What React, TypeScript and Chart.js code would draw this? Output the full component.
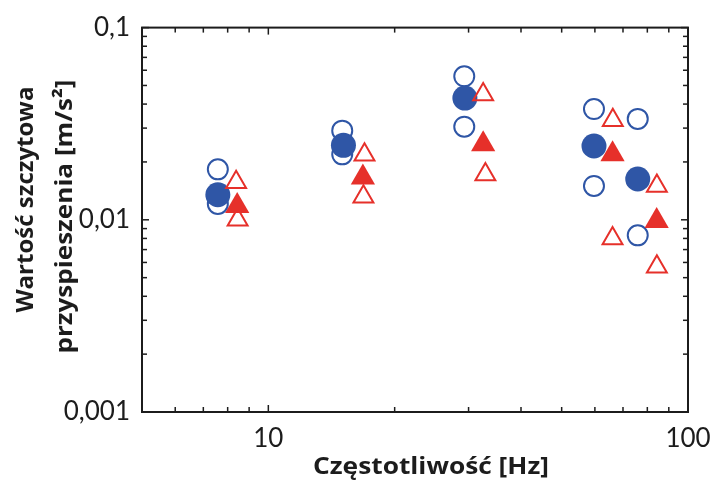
import React, { useEffect, useRef } from 'react';
import { Chart, registerables } from 'chart.js';

Chart.register(...registerables);

// Data (frequency in Hz, peak acceleration in m/s²)
const filledCircleX = [7.58, 15.1, 29.4, 59.7, 75.9];
const filledCircleY = [0.0135, 0.0244, 0.0430, 0.0242, 0.0163];

const openCircleX = [7.58, 7.58, 15.0, 15.0, 29.3, 29.3, 59.7, 59.7, 75.9, 75.9];
const openCircleY = [0.0183, 0.0121, 0.0291, 0.0219, 0.0558, 0.0305, 0.0377, 0.0150, 0.0335, 0.0083];

const filledTriangleX = [8.43, 16.8, 32.5, 66.1, 84.2];
const filledTriangleY = [0.0118, 0.0166, 0.0247, 0.0219, 0.00985];

const openTriangleX = [8.38, 8.45, 16.95, 16.85, 32.5, 32.9, 66.2, 66.1, 84.3, 84.3];
const openTriangleY = [0.0157, 0.0100, 0.0218, 0.0132, 0.0448, 0.0172, 0.0330, 0.0080, 0.0150, 0.0057];

// Axes
const xMajorTicks = [10, 100];
const xTickLabels = ['10', '100'];
const xMinorTicks = [6, 7, 8, 9, 20, 30, 40, 50, 60, 70, 80, 90];
const yMajorTicks = [0.001, 0.01, 0.1];
const yTickLabels = ['0,001', '0,01', '0,1'];
const yMinorTicks = [0.002, 0.003, 0.004, 0.005, 0.006, 0.007, 0.008, 0.009, 0.02, 0.03, 0.04, 0.05, 0.06, 0.07, 0.08, 0.09];

const xTitle = 'Częstotliwość [Hz]';
const yTitle = ['Wartość szczytowa', 'przyspieszenia [m/s²]'];

const BLUE = '#2f56a6';
const RED = '#e6302a';
const INK = '#1c1c1c';
const TITLE_FONT = 'bold 24px "Open Sans"';

const toPoints = (xs: number[], ys: number[]) => xs.map((x, i) => ({ x, y: ys[i] }));

// draws text centred at (x, y), stretched along its direction to a given length
const fitText = (ctx: any, text: string, x: number, y: number, len: number, rot: number) => {
  const w = ctx.measureText(text).width;
  ctx.save();
  ctx.translate(x, y);
  ctx.rotate(rot);
  ctx.scale(len / w, 1);
  ctx.fillText(text, 0, 0);
  ctx.restore();
};

const frameTicksPlugin = {
  id: 'frameTicks',
  afterDraw(chart: any) {
    const { ctx, chartArea: a, scales } = chart;
    const xs = scales.x;
    const ys = scales.y;
    const line = (x1: number, y1: number, x2: number, y2: number) => {
      ctx.beginPath();
      ctx.moveTo(x1, y1);
      ctx.lineTo(x2, y2);
      ctx.stroke();
    };
    ctx.save();
    ctx.strokeStyle = INK;
    ctx.lineWidth = 1.5;
    const drawX = (vals: number[], len: number) =>
      vals.forEach((v) => {
        const p = xs.getPixelForValue(v);
        line(p, a.bottom, p, a.bottom - len);
        line(p, a.top, p, a.top + len);
      });
    const drawY = (vals: number[], len: number) =>
      vals.forEach((v) => {
        const p = ys.getPixelForValue(v);
        line(a.left, p, a.left + len, p);
        line(a.right, p, a.right - len, p);
      });
    drawX(xMinorTicks, 5);
    drawX(xMajorTicks, 7);
    drawY(yMinorTicks, 5);
    drawY(yMajorTicks, 7);
    ctx.lineWidth = 2;
    ctx.strokeRect(a.left, a.top, a.right - a.left, a.bottom - a.top);

    // axis titles
    ctx.fillStyle = INK;
    ctx.font = TITLE_FONT;
    ctx.textAlign = 'center';
    ctx.textBaseline = 'middle';
    fitText(ctx, xTitle, a.left + 289, a.bottom + 55, 236, 0);
    fitText(ctx, yTitle[0], 26, a.top + 172, 226, -Math.PI / 2);
    fitText(ctx, yTitle[1], 65, a.top + 189, 274, -Math.PI / 2);
    ctx.restore();
  },
};

export default function App() {
  const canvasRef = useRef<HTMLCanvasElement | null>(null);

  useEffect(() => {
    document.body.style.margin = '0';
    const canvas = canvasRef.current;
    if (!canvas) return;
    const chart = new Chart(canvas, {
      type: 'scatter',
      data: {
        datasets: [
          {
            label: 'filled triangles',
            data: toPoints(filledTriangleX, filledTriangleY),
            pointStyle: 'triangle',
            pointRadius: 14,
            backgroundColor: RED,
            borderColor: RED,
            borderWidth: 0,
          },
          {
            label: 'open triangles',
            data: toPoints(openTriangleX, openTriangleY),
            pointStyle: 'triangle',
            pointRadius: 11.5,
            backgroundColor: 'rgba(0,0,0,0)',
            borderColor: RED,
            borderWidth: 2,
          },
          {
            label: 'filled circles',
            data: toPoints(filledCircleX, filledCircleY),
            pointStyle: 'circle',
            pointRadius: 12.5,
            backgroundColor: BLUE,
            borderColor: BLUE,
            borderWidth: 0,
          },
          {
            label: 'open circles',
            data: toPoints(openCircleX, openCircleY),
            pointStyle: 'circle',
            pointRadius: 10,
            backgroundColor: 'rgba(0,0,0,0)',
            borderColor: BLUE,
            borderWidth: 2,
          },
        ],
      },
      options: {
        animation: false,
        responsive: false,
        devicePixelRatio: 1,
        layout: { padding: { left: 0, right: 38, top: 23, bottom: 0 } },
        plugins: {
          legend: { display: false },
          tooltip: { enabled: false },
        },
        scales: {
          x: {
            type: 'logarithmic',
            min: 5,
            max: 100,
            position: 'bottom',
            afterBuildTicks: (s: any) => {
              s.ticks = xMajorTicks.map((v) => ({ value: v }));
            },
            afterFit: (s: any) => {
              s.height = 72;
            },
            ticks: {
              autoSkip: false,
              maxRotation: 0,
              padding: 11,
              color: INK,
              font: { family: 'Lato', size: 26 },
              callback: (v: any) => {
                const i = xMajorTicks.indexOf(Number(v));
                return i >= 0 ? xTickLabels[i] : '';
              },
            },
            grid: { display: false, drawTicks: false },
            border: { display: false },
          },
          y: {
            type: 'logarithmic',
            min: 0.001,
            max: 0.1,
            afterBuildTicks: (s: any) => {
              s.ticks = yMajorTicks.map((v) => ({ value: v }));
            },
            afterFit: (s: any) => {
              s.width = 142;
            },
            ticks: {
              autoSkip: false,
              padding: 12,
              color: INK,
              font: { family: 'Lato', size: 26 },
              callback: (v: any) => {
                const n = Number(v);
                const i = yMajorTicks.findIndex((t) => Math.abs(t - n) / t < 1e-6);
                return i >= 0 ? yTickLabels[i] : '';
              },
            },
            grid: { display: false, drawTicks: false },
            border: { display: false },
          },
        },
      },
      plugins: [frameTicksPlugin],
    } as any);
    return () => chart.destroy();
  }, []);

  return (
    <div style={{ width: 726, height: 484 }}>
      <canvas ref={canvasRef} width={726} height={484} />
    </div>
  );
}
